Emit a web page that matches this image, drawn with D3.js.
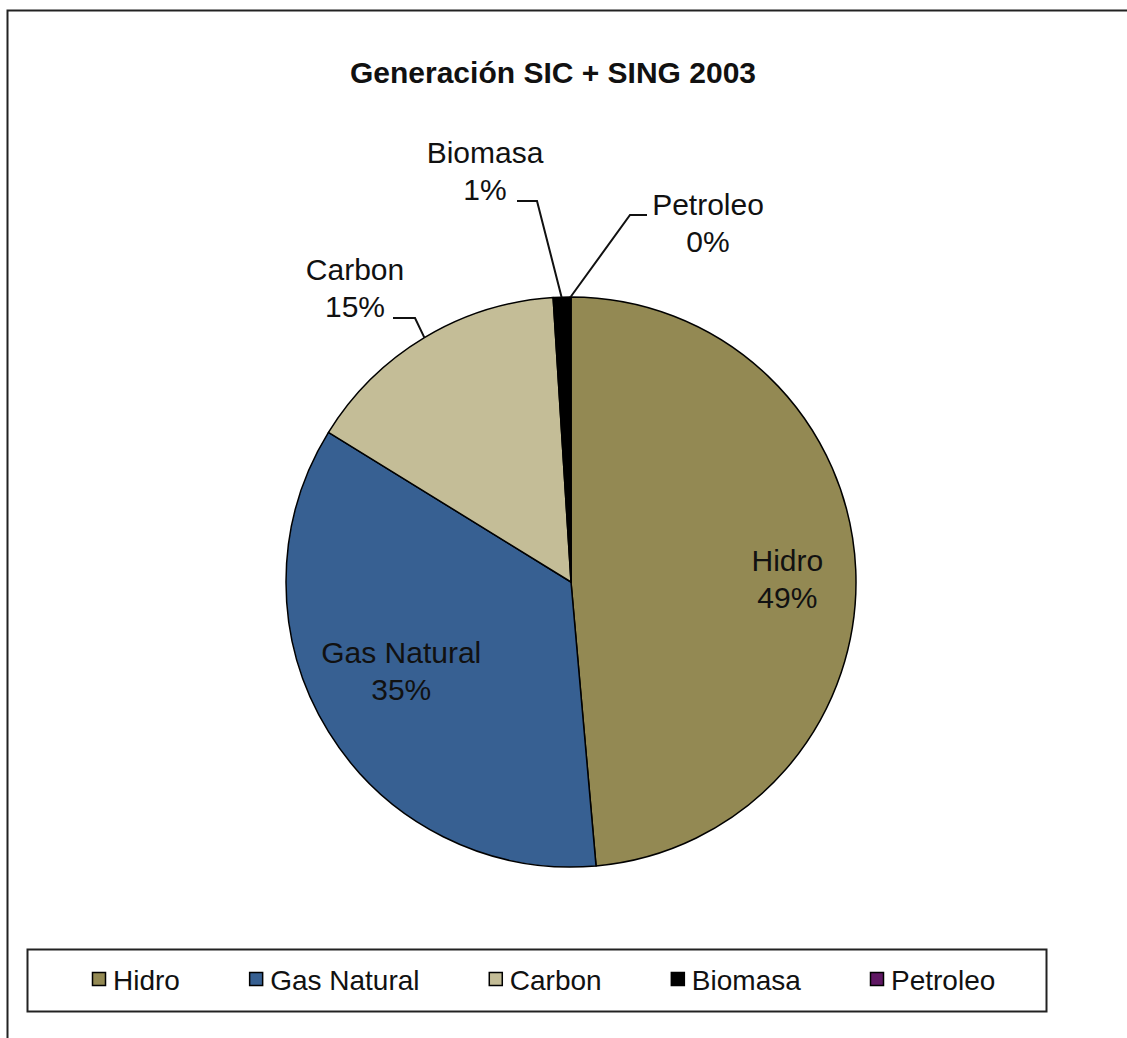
<!DOCTYPE html>
<html>
<head>
<meta charset="utf-8">
<script src="https://cdn.jsdelivr.net/npm/d3@7"></script>
<style>
	body { margin: 0; padding: 0; background: #fff; }
	svg { display: block; }
	text { font-family: 'Liberation Sans', Arial, sans-serif; fill: #111; }
</style>
</head>
<body>
<div id="chart"></div>
<script>
var categories = ['Hidro', 'Gas Natural', 'Carbon', 'Biomasa', 'Petroleo'];
var shares = [48.6, 35.2, 15.2, 0.95, 0.05];
var colors = ['#938953', '#376092', '#c4bd97', '#000000', '#5f1763'];
var title = 'Generación SIC + SING 2003';

(function () {
	'use strict';

	var width = 1127,
			height = 1038,
			cx = 571,
			cy = 582,
			radius = 285;

	// where each label sits, relative to pie centre; inside labels use a radius factor
	var labelLayout = {
		'Hidro': { inside: true, r: 0.76, dy: -1 },
		'Gas Natural': { inside: true, r: 0.7, dy: -24 },
		'Carbon': { x: -216, y: -302, hook: [-178, -264, -156] },
		'Biomasa': { x: -86, y: -419, hook: [-54, -381, -34] },
		'Petroleo': { x: 137, y: -367, hook: [76, -367, 59] }
	};

	// first and last legend swatch, items spread evenly between
	var legendFirst = 92,
			legendLast = 870;

	var rows = categories.map(function (c, i) {
		return { name: c, value: shares[i], color: colors[i] };
	});

	var svg = d3.select('#chart').append('svg')
							.attr('width', width)
							.attr('height', height);

	// outer chart frame (runs off the right and bottom)
	svg.append('rect')
		 .attr('x', 7.5).attr('y', 10.5)
		 .attr('width', 1200).attr('height', 1200)
		 .style('fill', 'none')
		 .style('stroke', '#222')
		 .style('stroke-width', 2);

	svg.append('text')
		 .attr('x', 553).attr('y', 83)
		 .attr('text-anchor', 'middle')
		 .style('font-size', '30px')
		 .style('font-weight', 'bold')
		 .text(title);

	var pie = d3.pie().sort(null).value(function (d) { return d.value; });
	var arcs = pie(rows);
	var arc = d3.arc().innerRadius(0).outerRadius(radius);

	var g = svg.append('g')
						 .attr('transform', 'translate(' + cx + ',' + cy + ')');

	g.selectAll('path.slice')
	 .data(arcs)
	 .enter().append('path')
	 .attr('class', 'slice')
	 .attr('d', arc)
	 .style('fill', function (d) { return d.data.color; })
	 .style('stroke', '#000')
	 .style('stroke-width', 1.5)
	 .style('stroke-linejoin', 'round');

	function midAngle (d) { return (d.startAngle + d.endAngle) / 2; }

	function pct (v) { return Math.round(v) + '%'; }

	arcs.forEach(function (d) {
		var lay = labelLayout[d.data.name],
				a = midAngle(d),
				lx, ly;

		if (lay.inside) {
			lx = Math.sin(a) * radius * lay.r;
			ly = -Math.cos(a) * radius * lay.r + lay.dy;
		} else {
			lx = lay.x;
			ly = lay.y;
			var edge = [Math.sin(a) * radius, -Math.cos(a) * radius];
			g.append('path')
			 .attr('d', d3.line()([
					[lay.hook[0], lay.hook[1]],
					[lay.hook[2], lay.hook[1]],
					edge
				]))
			 .style('fill', 'none')
			 .style('stroke', '#111')
			 .style('stroke-width', 2);
		}

		var t = g.append('text')
						 .attr('text-anchor', 'middle')
						 .style('font-size', '30px');
		t.append('tspan').attr('x', lx).attr('y', ly).text(d.data.name);
		t.append('tspan').attr('x', lx).attr('y', ly + 37).text(pct(d.data.value));
	});

	// legend
	var legend = svg.append('g');
	legend.append('rect')
				.attr('x', 27.5).attr('y', 949.5)
				.attr('width', 1019).attr('height', 62)
				.style('fill', '#fff')
				.style('stroke', '#222')
				.style('stroke-width', 2);

	var items = rows.map(function (d) {
		var it = legend.append('g');
		it.append('rect')
			.attr('x', 0.5).attr('y', 972.5)
			.attr('width', 13).attr('height', 13)
			.style('fill', d.color)
			.style('stroke', '#000')
			.style('stroke-width', 1.5);
		var t = it.append('text')
							.attr('x', 21).attr('y', 990)
							.style('font-size', '28px')
							.text(d.name);
		return { g: it, w: 21 + t.node().getComputedTextLength() };
	});

	var used = d3.sum(items.slice(0, -1), function (d) { return d.w; }),
			gap = (legendLast - legendFirst - used) / (items.length - 1),
			x = legendFirst;

	items.forEach(function (it) {
		it.g.attr('transform', 'translate(' + x + ',0)');
		x += it.w + gap;
	});
}());
</script>
</body>
</html>
